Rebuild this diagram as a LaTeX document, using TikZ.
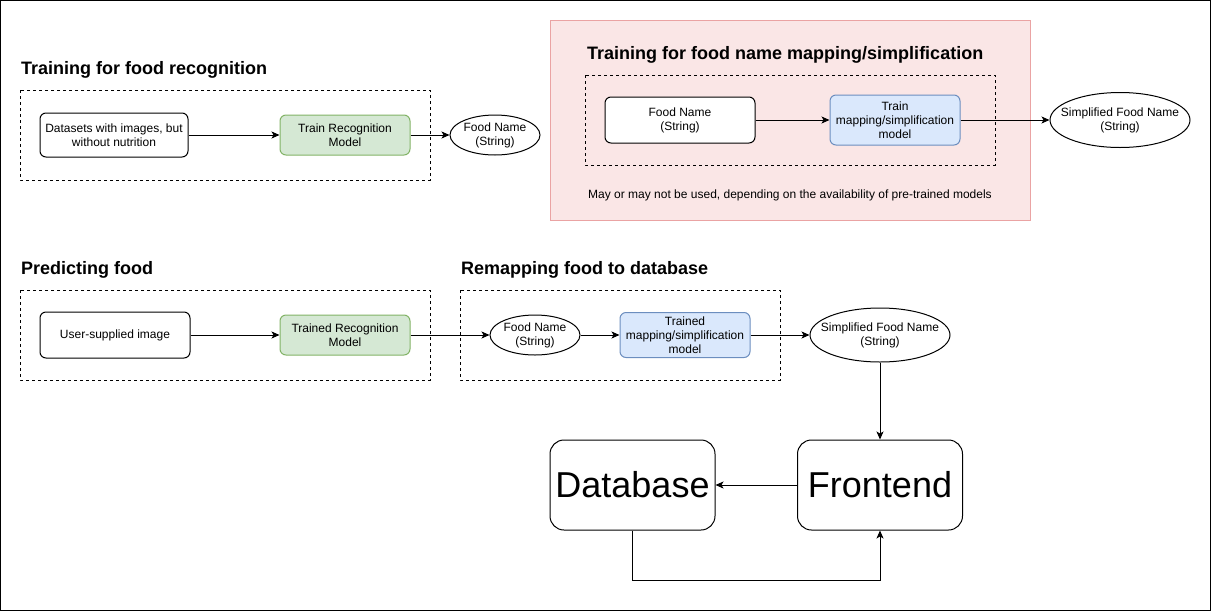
\documentclass[tikz,border=0pt]{standalone}
\usepackage{fontspec}
\setmainfont{Liberation Sans}
\usetikzlibrary{arrows.meta,shapes.geometric}
\definecolor{gfill}{HTML}{D5E8D4}
\definecolor{gdraw}{HTML}{82B366}
\definecolor{bfill}{HTML}{DAE8FC}
\definecolor{bdraw}{HTML}{6C8EBF}
\definecolor{pfill}{HTML}{FAE6E6}
\definecolor{pdraw}{HTML}{EAA3A3}
\begin{document}
\begin{tikzpicture}[x=1pt,y=-1pt,
  every node/.style={inner sep=0pt, align=center, font=\fontsize{12}{14}\selectfont},
  box/.style={draw, rounded corners=6pt, line width=1pt},
  greenbox/.style={box, fill=gfill, draw=gdraw},
  bluebox/.style={box, fill=bfill, draw=bdraw},
  ell/.style={ellipse, draw, line width=1pt, fill=white, inner xsep=-12pt, inner ysep=-6pt},
  bigbox/.style={draw, rounded corners=14pt, line width=1pt, font=\fontsize{36}{40}\selectfont},
  dashbox/.style={draw, line width=1pt, dash pattern=on 3pt off 3pt},
  title/.style={anchor=west, font=\bfseries\fontsize{18}{22}\selectfont},
  arr/.style={line width=1pt, -{Stealth[length=8pt,width=7pt,inset=2pt]}}]
\useasboundingbox (0,0) rectangle (1211,611);
\draw[line width=1pt] (0.5,0.5) rectangle (1210.5,610.5);
% pink region
\draw[fill=pfill, draw=pdraw, line width=1pt] (550,20) rectangle (1030,220);
% dashed boxes
\draw[dashbox] (20,90) rectangle (430,180);
\draw[dashbox] (585,75) rectangle (995,165);
\draw[dashbox] (20,290) rectangle (430,380);
\draw[dashbox] (460,290) rectangle (780,380);
% titles
\node[title] (t1) at (21,70) {Training for food recognition};
\node[title] (t2) at (587,55) {Training for food name mapping/simplification};
\node[title] (t3) at (21,270) {Predicting food};
\node[title] (t4) at (461,270) {Remapping food to database};
% row 1
\node[box, minimum width=148pt, minimum height=44pt] (d1) at (114,135) {Datasets with images, but\\without nutrition};
\node[greenbox, minimum width=130pt, minimum height=40pt] (g1) at (345,135) {Train Recognition\\Model};
\node[ell, minimum width=90pt, minimum height=40pt] (e1) at (495,135) {Food Name\\(String)};
\node[box, fill=white, minimum width=150pt, minimum height=46pt] (fn2) at (680,120) {Food Name\\(String)};
\node[bluebox, minimum width=130pt, minimum height=50pt] (b2) at (895,120) {Train\\mapping/simplification\\model};
\node[ell, minimum width=140pt, minimum height=55pt] (e2) at (1120,120) {Simplified Food Name\\(String)};
\node (note) at (790,195) {May or may not be used, depending on the availability of pre-trained models};
% row 2
\node[box, minimum width=150pt, minimum height=46pt] (u) at (115,335) {User-supplied image};
\node[greenbox, minimum width=130pt, minimum height=40pt] (g3) at (345,335) {Trained Recognition\\Model};
\node[ell, minimum width=90pt, minimum height=40pt] (e4) at (535,335) {Food Name\\(String)};
\node[bluebox, minimum width=130pt, minimum height=45pt] (b4) at (685,335) {Trained\\mapping/simplification\\model};
\node[ell, minimum width=140pt, minimum height=54pt] (e5) at (880,335) {Simplified Food Name\\(String)};
% bottom
\node[bigbox, minimum width=165pt, minimum height=90pt] (db) at (632.5,485) {Database};
\node[bigbox, minimum width=165pt, minimum height=90pt] (fe) at (880,485) {Frontend};
% arrows
\draw[arr] (d1) -- (g1);
\draw[arr] (g1) -- (e1);
\draw[arr] (fn2) -- (b2);
\draw[arr] (b2) -- (e2);
\draw[arr] (u) -- (g3);
\draw[arr] (g3) -- (e4);
\draw[arr] (e4) -- (b4);
\draw[arr] (b4) -- (e5);
\draw[arr] (e5.south) -- (fe.north);
\draw[arr] (fe) -- (db);
\draw[arr] (db.south) -- ++(0,50) -| (fe.south);
\end{tikzpicture}
\end{document}
